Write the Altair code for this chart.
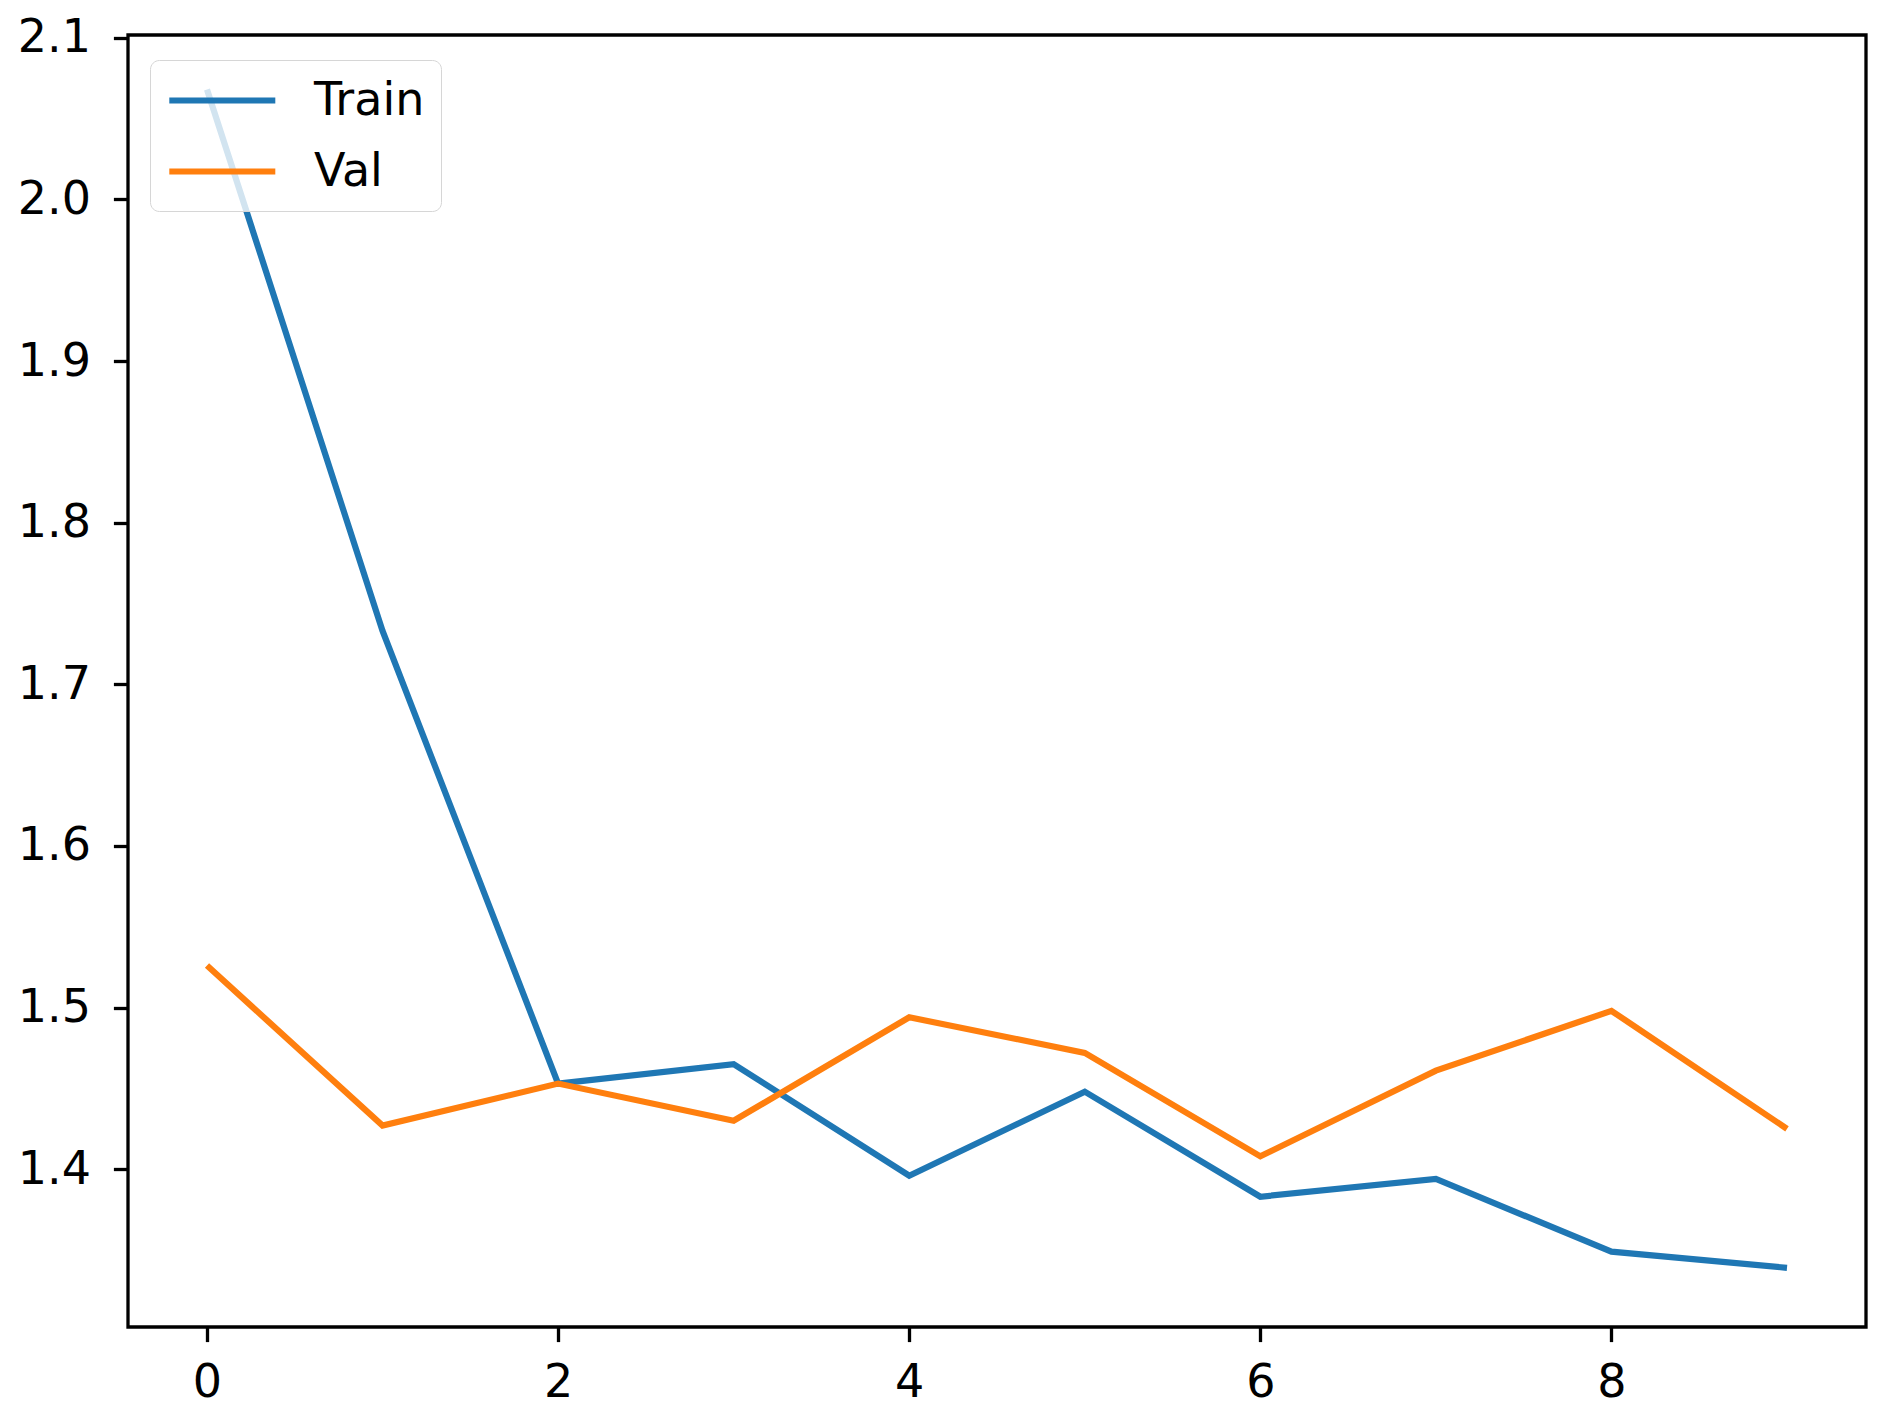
import altair as alt
import pandas as pd

epochs = [0, 1, 2, 3, 4, 5, 6, 7, 8, 9]
train_loss = [2.068, 1.733, 1.453, 1.465, 1.396, 1.448, 1.383, 1.394, 1.349, 1.339]
val_loss = [1.526, 1.427, 1.453, 1.430, 1.494, 1.472, 1.408, 1.461, 1.498, 1.425]
series_names = ["Train", "Val"]
series_colors = ["#1f77b4", "#ff7f0e"]
x_ticks = [0, 2, 4, 6, 8]
y_ticks = [1.4, 1.5, 1.6, 1.7, 1.8, 1.9, 2.0, 2.1]

rows = []
for e, t, v in zip(epochs, train_loss, val_loss):
    rows.append({"epoch": e, "loss": t, "series": "Train"})
    rows.append({"epoch": e, "loss": v, "series": "Val"})
df = pd.DataFrame(rows)

FONT = "DejaVu Sans"
FS = 46

chart = alt.Chart(df).mark_line(strokeWidth=6.2).encode(
    x=alt.X("epoch:Q", scale=alt.Scale(domain=[-0.45, 9.45], nice=False, zero=False),
            axis=alt.Axis(values=x_ticks, title=None, format="d", grid=False, domain=False,
                          tickColor="black", tickWidth=3.3, tickSize=14.6,
                          labelFont=FONT, labelFontSize=FS, labelColor="black",
                          labelPadding=19, labelFlush=False)),
    y=alt.Y("loss:Q", scale=alt.Scale(domain=[1.3024, 2.1017], nice=False, zero=False),
            axis=alt.Axis(values=y_ticks, title=None, format=".1f", grid=False, domain=False,
                          tickColor="black", tickWidth=3.3, tickSize=14.6,
                          labelFont=FONT, labelFontSize=FS, labelColor="black",
                          labelPadding=23, labelFlush=False)),
    color=alt.Color("series:N", scale=alt.Scale(domain=series_names, range=series_colors),
                    legend=alt.Legend(title=None, orient="none", legendX=22, legendY=25,
                                      symbolType="M-1,0H4", symbolSize=1798, symbolStrokeWidth=6.2,
                                      labelFont=FONT, labelFontSize=FS, labelColor="black",
                                      labelOffset=99, rowPadding=23, padding=16,
                                      fillColor="rgba(255,255,255,0.8)", strokeColor="#d6d6d6",
                                      cornerRadius=9)),
).properties(
    width=1738, height=1292,
    autosize=alt.AutoSizeParams(type="none"),
    padding={"left": 120, "top": 27, "right": 12, "bottom": 85},
    background="white",
).configure_view(
    stroke="black", strokeWidth=3.3, fill="white"
)

chart.save("out.html", embed_options={"renderer": "svg", "actions": False})
